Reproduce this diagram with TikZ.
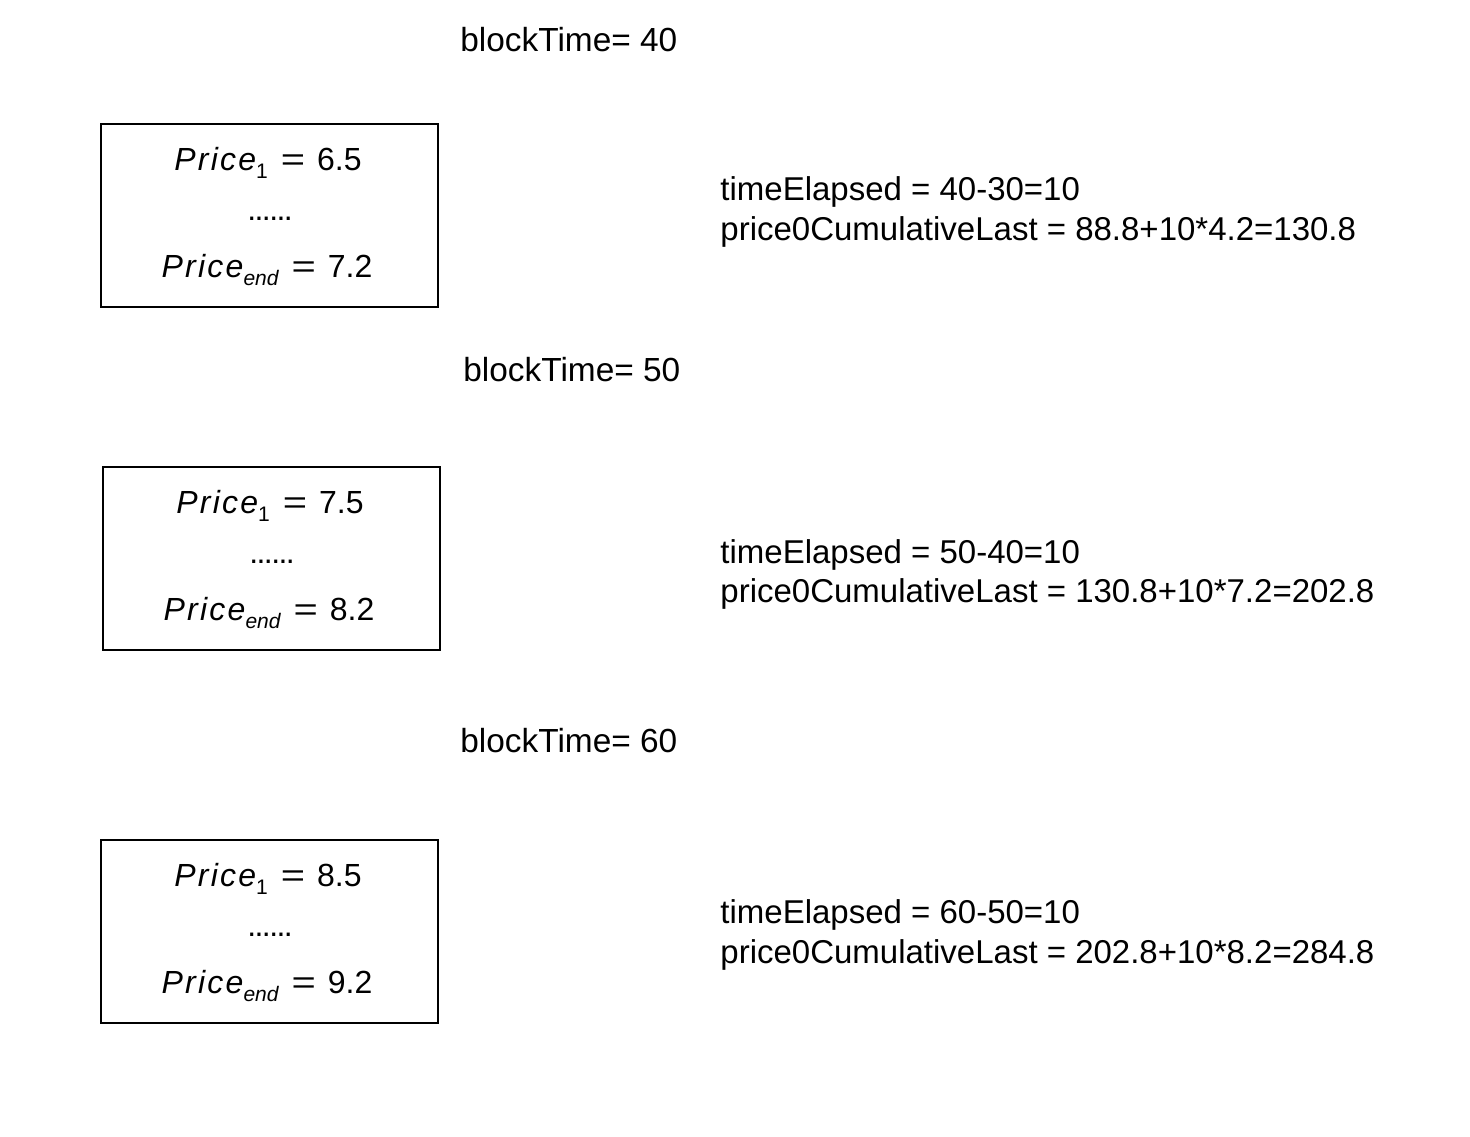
\documentclass[tikz,border=0pt]{standalone}
\usepackage{fontspec}
\usepackage{graphicx}
\setmainfont{Liberation Sans}
\newfontfamily\pif{Liberation Sans}[LetterSpace=7]
\newfontfamily\dotf{Liberation Sans}[LetterSpace=-5]
\newcommand{\prc}[2]{{\fontsize{16}{19}\selectfont{\pif\itshape Price}\raisebox{-4pt}{\fontsize{10.5}{13}\selectfont #1}\hspace{6.5pt}\scalebox{1.3}[1]{=}\hspace{6pt}#2}}
\tikzset{
  lbl/.style={anchor=base west,inner sep=0pt,font=\fontsize{16.5}{20}\selectfont},
  btl/.style={lbl,font=\fontsize{16.7}{20}\selectfont},
  ptxt/.style={anchor=base,inner sep=0pt},
  dotline/.style={anchor=base,inner sep=0pt,font=\dotf\fontsize{16}{19}\selectfont},
  blockbox/.style={draw,line width=1.1pt,minimum width=168.5pt,minimum height=91.5pt,inner sep=0pt,anchor=north west},
}
\begin{document}
\begin{tikzpicture}[x=0.5pt,y=-0.5pt]
\useasboundingbox (0,0) rectangle (1470,1136);
% block 1
\node[btl] (bt1) at (460,51) {blockTime= 40};
\node[blockbox] (box1) at (100,123) {};
\node[ptxt] (p1a) at (268,170) {\prc{1}{6.5}};
\node[dotline] (p1b) at (270,220) {......};
\node[ptxt] (p1c) at (267,277) {\prc{\itshape end}{7.2}};
\node[lbl] (te1) at (720,200) {timeElapsed = 40-30=10};
\node[lbl] (pc1) at (720,240) {price0CumulativeLast = 88.8+10*4.2=130.8};
% block 2
\node[btl] (bt2) at (463,381) {blockTime= 50};
\node[blockbox] (box2) at (102,466) {};
\node[ptxt] (p2a) at (270,513) {\prc{1}{7.5}};
\node[dotline] (p2b) at (272,563) {......};
\node[ptxt] (p2c) at (269,620) {\prc{\itshape end}{8.2}};
\node[lbl] (te2) at (720,563) {timeElapsed = 50-40=10};
\node[lbl] (pc2) at (720,602) {price0CumulativeLast = 130.8+10*7.2=202.8};
% block 3
\node[btl] (bt3) at (460,752) {blockTime= 60};
\node[blockbox] (box3) at (100,839) {};
\node[ptxt] (p3a) at (268,886) {\prc{1}{8.5}};
\node[dotline] (p3b) at (270,936) {......};
\node[ptxt] (p3c) at (267,993) {\prc{\itshape end}{9.2}};
\node[lbl] (te3) at (720,923) {timeElapsed = 60-50=10};
\node[lbl] (pc3) at (720,963) {price0CumulativeLast = 202.8+10*8.2=284.8};
\end{tikzpicture}
\end{document}
